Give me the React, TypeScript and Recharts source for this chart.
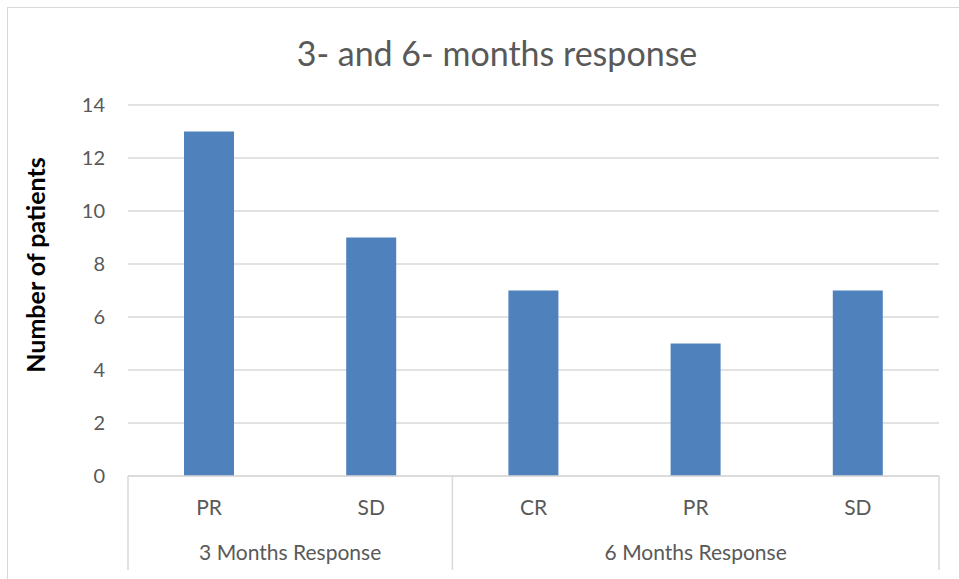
import { BarChart, Bar, XAxis, YAxis, CartesianGrid } from "recharts"

const categories = ["PR", "SD", "CR", "PR", "SD"]
const groups = ["3 Months Response", "3 Months Response", "6 Months Response", "6 Months Response", "6 Months Response"]
const patients = [13, 9, 7, 5, 7]
const yTicks = [0, 2, 4, 6, 8, 10, 12, 14]

const data = categories.map((c, i) => ({ name: c, group: groups[i], patients: patients[i] }))

const W = 959
const H = 579
const PLOT_LEFT = 128
const PLOT_RIGHT = 939
const BAND = (PLOT_RIGHT - PLOT_LEFT) / categories.length
const GRAY = "#595959"
const LINE = "#d9d9d9"
const FONT = "Lato, 'Open Sans', sans-serif"

function CategoryTick(props: any) {
  const { x, y, payload } = props
  return (
    <text x={x} y={y + 31} textAnchor="middle" fill={GRAY} fontSize={21} fontFamily={FONT}>
      {payload.value}
    </text>
  )
}

function GroupTick(props: any) {
  const { x, y, index } = props
  const top = y - 63
  const bottom = top + 94
  const items: any[] = []
  // separators at group boundaries
  if (index === 0 || groups[index] !== groups[index - 1]) {
    items.push(<line key="l" x1={x - BAND / 2} x2={x - BAND / 2} y1={top} y2={bottom} stroke={LINE} strokeWidth={1.5} />)
  }
  if (index === groups.length - 1) {
    items.push(<line key="r" x1={x + BAND / 2} x2={x + BAND / 2} y1={top} y2={bottom} stroke={LINE} strokeWidth={1.5} />)
  }
  // label centred over the group's categories
  const first = groups.indexOf(groups[index])
  const last = groups.lastIndexOf(groups[index])
  if (index === first) {
    const cx = x + ((last - first) * BAND) / 2
    items.push(
      <text key="t" x={cx} y={top + 84} textAnchor="middle" fill={GRAY} fontSize={21} fontFamily={FONT}>
        {groups[index]}
      </text>
    )
  }
  return <g>{items}</g>
}

function YLabel() {
  return (
    <text
      x={35}
      y={265}
      transform="rotate(-90 35 265)"
      textAnchor="middle"
      dominantBaseline="central"
      fill="#000"
      fontSize={25}
      fontWeight="bold"
      fontFamily={FONT}
    >
      Number of patients
    </text>
  )
}

export default function App() {
  return (
    <div style={{ position: "absolute", left: 0, top: 0, width: W, height: H, overflow: "hidden", background: "#fff" }}>
      <div style={{ position: "absolute", left: 7, top: 7, width: W, height: H, border: `1.5px solid ${LINE}` }} />
      <div
        style={{
          position: "absolute",
          left: 0,
          top: 32,
          width: 994,
          textAlign: "center",
          fontFamily: FONT,
          fontSize: 34,
          color: GRAY,
          lineHeight: "42px",
        }}
      >
        3- and 6- months response
      </div>
      <div style={{ position: "absolute", left: 0, top: 0 }}>
        <BarChart width={W} height={H} data={data} margin={{ top: 105, right: W - PLOT_RIGHT, bottom: 0, left: 0 }}>
          <CartesianGrid vertical={false} stroke={LINE} strokeWidth={1.5} />
          <YAxis
            domain={[0, 14]}
            ticks={yTicks}
            width={PLOT_LEFT}
            axisLine={false}
            tickLine={false}
            tickSize={0}
            tickMargin={23}
            tick={{ fill: GRAY, fontSize: 20, fontFamily: FONT }}
            label={<YLabel />}
          />
          <XAxis
            dataKey="name"
            xAxisId="cat"
            height={55}
            interval={0}
            axisLine={{ stroke: LINE, strokeWidth: 1.5 }}
            tickLine={false}
            tick={<CategoryTick />}
          />
          <XAxis
            dataKey="group"
            xAxisId="group"
            height={48}
            interval={0}
            axisLine={false}
            tickLine={false}
            tick={<GroupTick />}
            allowDuplicatedCategory
          />
          <Bar dataKey="patients" xAxisId="cat" fill="#4F81BD" barSize={50} isAnimationActive={false} />
        </BarChart>
      </div>
    </div>
  )
}
